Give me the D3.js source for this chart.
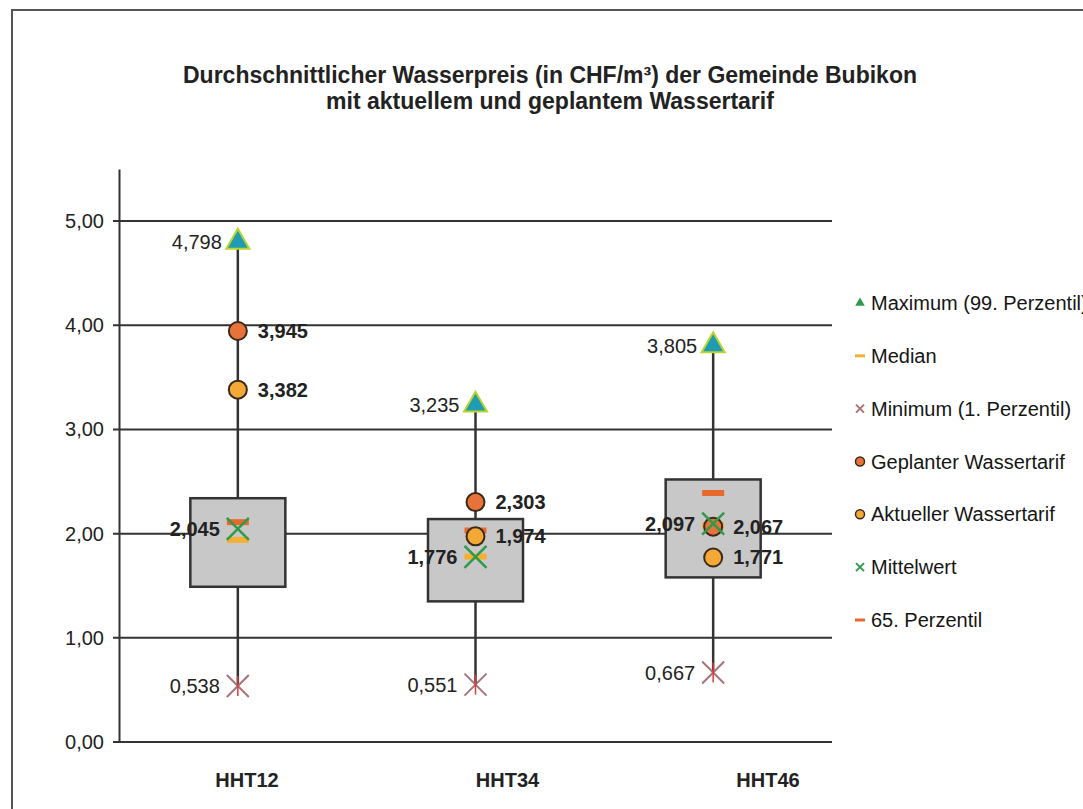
<!DOCTYPE html>
<html>
<head>
<meta charset="utf-8">
<script src="https://cdn.jsdelivr.net/npm/d3@7"></script>
<style>
  body { margin: 0; background: #fff; }
  svg text { font-family: Arial, "Liberation Sans", sans-serif; fill: #222; }
</style>
</head>
<body>
<div id="chart"></div>
<script>
const WIDTH = 1083;
const HEIGHT = 809;

// Daten
const categories = ["HHT12", "HHT34", "HHT46"];
const maxVals = [4.798, 3.235, 3.805];
const minVals = [0.538, 0.551, 0.667];
const meanVals = [2.045, 1.776, 2.097];
const geplantVals = [3.945, 2.303, 2.067];
const aktuellVals = [3.382, 1.974, 1.771];
const medianVals = [1.94, 1.78, 2.08];
const p65Vals = [2.11, 2.03, 2.39];
const q1Vals = [1.49, 1.35, 1.58];
const q3Vals = [2.34, 2.14, 2.52];
const yTicks = [0, 1, 2, 3, 4, 5];
const legendLabels = ["Maximum (99. Perzentil)", "Median", "Minimum (1. Perzentil)",
  "Geplanter Wassertarif", "Aktueller Wassertarif", "Mittelwert", "65. Perzentil"];
const titleLines = ["Durchschnittlicher Wasserpreis (in CHF/m³) der Gemeinde Bubikon",
  "mit aktuellem und geplantem Wassertarif"];

const colors = {
  triFill: "#1f9bb3", triStroke: "#b9d52e",
  geplant: "#e8733a", aktuell: "#f4a836",
  median: "#f5b031", p65: "#e8682e",
  mean: "#2f9a4a", min: "#a87379", minRed: "#d63b3b"
};

const de = d3.formatLocale({ decimal: ",", thousands: ".", grouping: [3], currency: ["", " CHF"] });
const fmt3 = de.format(".3f");
const fmt2 = de.format(".2f");

const svg = d3.select("#chart").append("svg")
  .attr("width", WIDTH).attr("height", HEIGHT);

// Rahmen (Scan)
svg.append("path")
  .attr("d", `M12,${HEIGHT} L12,10 L${WIDTH},10`)
  .attr("fill", "none").attr("stroke", "#555").attr("stroke-width", 2);

// Titel
svg.append("g").selectAll("text")
  .data(titleLines)
  .join("text")
  .attr("x", 550)
  .attr("y", (d, i) => 83 + i * 26)
  .attr("text-anchor", "middle")
  .attr("font-size", 23)
  .attr("font-weight", "bold")
  .text(d => d);

const y = d3.scaleLinear().domain([0, 5.5]).range([742, 169]);
const x = d3.scaleBand().domain(categories).range([119, 832]);
const xLabel = d3.scalePoint().domain(categories).range([247, 768]);
const cx = c => x(c) + x.bandwidth() / 2;

// Gitterlinien
svg.append("g").selectAll("line")
  .data(yTicks)
  .join("line")
  .attr("x1", 113).attr("x2", 832)
  .attr("y1", d => y(d)).attr("y2", d => y(d))
  .attr("stroke", "#333").attr("stroke-width", 2);

// y-Achse
const yAxis = svg.append("g")
  .attr("transform", "translate(119,0)")
  .call(d3.axisLeft(y).tickValues(yTicks).tickFormat(fmt2).tickSize(0).tickPadding(15));
yAxis.select(".domain").attr("stroke", "#333").attr("stroke-width", 2);
yAxis.selectAll("text").attr("font-size", 20).attr("fill", "#222");

// x-Beschriftung
svg.append("g").selectAll("text")
  .data(categories)
  .join("text")
  .attr("x", d => xLabel(d))
  .attr("y", 787)
  .attr("text-anchor", "middle")
  .attr("font-size", 20)
  .attr("font-weight", "bold")
  .text(d => d);

const rows = categories.map((c, i) => ({
  cat: c, max: maxVals[i], min: minVals[i], mean: meanVals[i],
  geplant: geplantVals[i], aktuell: aktuellVals[i],
  median: medianVals[i], p65: p65Vals[i], q1: q1Vals[i], q3: q3Vals[i]
}));

const g = svg.append("g");

// Whisker
g.selectAll(".whisker")
  .data(rows)
  .join("line")
  .attr("class", "whisker")
  .attr("x1", d => cx(d.cat)).attr("x2", d => cx(d.cat))
  .attr("y1", d => y(d.min)).attr("y2", d => y(d.max))
  .attr("stroke", "#333").attr("stroke-width", 2.5);

// Box
const boxW = 95;
g.selectAll(".box")
  .data(rows)
  .join("rect")
  .attr("class", "box")
  .attr("x", d => cx(d.cat) - boxW / 2)
  .attr("y", d => y(d.q3))
  .attr("width", boxW)
  .attr("height", d => y(d.q1) - y(d.q3))
  .attr("fill", "#c8c8c8")
  .attr("stroke", "#333").attr("stroke-width", 2.5);

// Median und 65. Perzentil
g.selectAll(".median")
  .data(rows)
  .join("rect")
  .attr("x", d => cx(d.cat) - 11).attr("y", d => y(d.median) - 3)
  .attr("width", 22).attr("height", 6)
  .attr("fill", colors.median);

g.selectAll(".p65")
  .data(rows)
  .join("rect")
  .attr("x", d => cx(d.cat) - 11).attr("y", d => y(d.p65) - 3)
  .attr("width", 22).attr("height", 6)
  .attr("fill", colors.p65);

// Minimum
const xMark = (sel, val, color, w) => {
  sel.append("path")
    .attr("d", d => {
      const px = cx(d.cat), py = y(d[val]);
      return `M${px - 11},${py - 11}L${px + 11},${py + 11}M${px - 11},${py + 11}L${px + 11},${py - 11}`;
    })
    .attr("stroke", color).attr("stroke-width", w).attr("fill", "none");
};
const minG = g.selectAll(".minG").data(rows).join("g");
xMark(minG, "min", colors.min, 2);
minG.append("line")
  .attr("x1", d => cx(d.cat)).attr("x2", d => cx(d.cat))
  .attr("y1", d => y(d.min) - 10).attr("y2", d => y(d.min) + 10)
  .attr("stroke", colors.minRed).attr("stroke-width", 1.5);

// Tarife
g.selectAll(".akt")
  .data(rows)
  .join("circle")
  .attr("cx", d => cx(d.cat)).attr("cy", d => y(d.aktuell)).attr("r", 9)
  .attr("fill", colors.aktuell).attr("stroke", "#3a2a1a").attr("stroke-width", 2);

g.selectAll(".gep")
  .data(rows)
  .join("circle")
  .attr("cx", d => cx(d.cat)).attr("cy", d => y(d.geplant)).attr("r", 9)
  .attr("fill", colors.geplant).attr("stroke", "#3a2a1a").attr("stroke-width", 2);

// Mittelwert
const meanG = g.selectAll(".meanG").data(rows).join("g");
xMark(meanG, "mean", colors.mean, 2.5);

// Maximum
g.selectAll(".max")
  .data(rows)
  .join("path")
  .attr("transform", d => `translate(${cx(d.cat)},${y(d.max)})`)
  .attr("d", d3.symbol(d3.symbolTriangle, 230))
  .attr("fill", colors.triFill).attr("stroke", colors.triStroke).attr("stroke-width", 2);

// Beschriftungen
const label = (key, dx, anchor, weight) => {
  g.append("g").selectAll("text")
    .data(rows)
    .join("text")
    .attr("x", d => cx(d.cat) + dx)
    .attr("y", d => y(d[key]))
    .attr("dy", "0.35em")
    .attr("text-anchor", anchor)
    .attr("font-size", 20)
    .attr("font-weight", weight)
    .text(d => fmt3(d[key]));
};
label("max", -16, "end", "normal");
label("min", -18, "end", "normal");
label("mean", -18, "end", "bold");
label("geplant", 20, "start", "bold");
label("aktuell", 20, "start", "bold");

// Legende
const legY = d3.scalePoint().domain(legendLabels).range([303, 620]);
const leg = svg.append("g").selectAll("g")
  .data(legendLabels)
  .join("g")
  .attr("transform", d => `translate(860,${legY(d)})`);

leg.append("text")
  .attr("x", 11).attr("dy", "0.35em")
  .attr("font-size", 20)
  .style("fill", "#151515")
  .text(d => d);

leg.each(function (d, i) {
  const s = d3.select(this);
  if (i === 0) {
    s.append("path").attr("d", d3.symbol(d3.symbolTriangle, 40)).attr("fill", colors.mean);
  } else if (i === 1 || i === 6) {
    s.append("rect").attr("x", -5).attr("y", -1.5).attr("width", 10).attr("height", 3)
      .attr("fill", i === 1 ? colors.median : colors.p65);
  } else if (i === 2 || i === 5) {
    s.append("path").attr("d", "M-4,-4L4,4M-4,4L4,-4")
      .attr("stroke", i === 2 ? colors.min : colors.mean).attr("stroke-width", 2);
  } else {
    s.append("circle").attr("r", 4.5)
      .attr("fill", i === 3 ? colors.geplant : colors.aktuell)
      .attr("stroke", "#3a2a1a").attr("stroke-width", 1.5);
  }
});
</script>
</body>
</html>
